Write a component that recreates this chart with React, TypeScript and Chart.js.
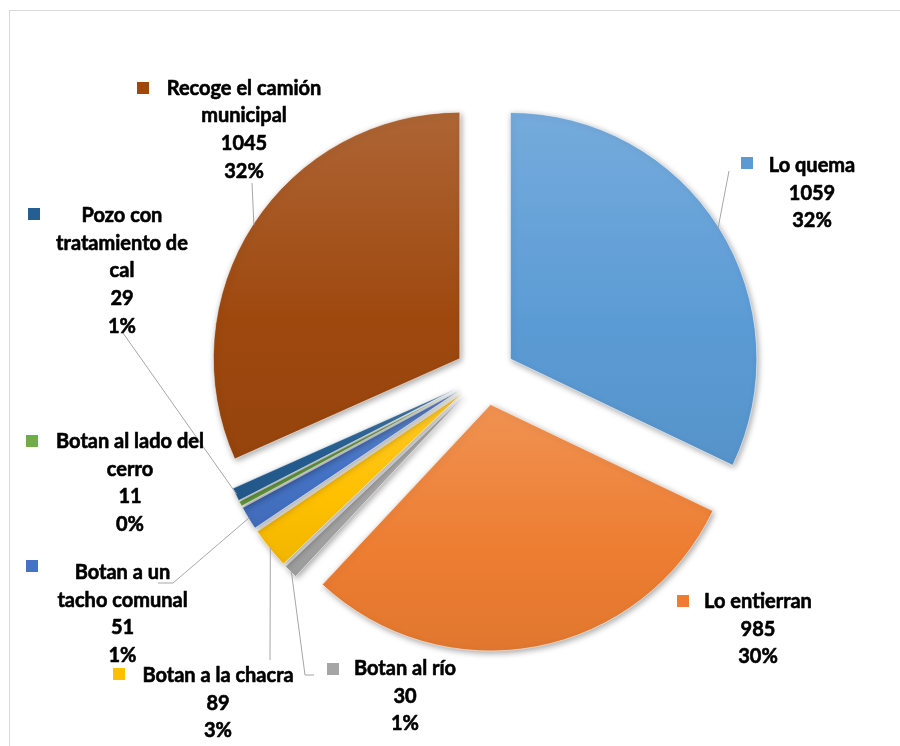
import React, { useEffect, useRef } from "react";
import { Chart, registerables } from "chart.js";

Chart.register(...registerables);

// ---- data ----
const categories = [
  "Lo quema",
  "Lo entierran",
  "Botan al río",
  "Botan a la chacra",
  "Botan a un tacho comunal",
  "Botan al lado del cerro",
  "Pozo con tratamiento de cal",
  "Recoge el camión municipal",
];
const values = [1059, 985, 30, 89, 51, 11, 29, 1045];
const percentLabels = ["32%", "30%", "1%", "3%", "1%", "0%", "1%", "32%"];
const nameLines = [
  ["Lo quema"],
  ["Lo entierran"],
  ["Botan al río"],
  ["Botan a la chacra"],
  ["Botan a un", "tacho comunal"],
  ["Botan al lado del", "cerro"],
  ["Pozo con", "tratamiento de", "cal"],
  ["Recoge el camión", "municipal"],
];
const baseColors = ["#5B9BD5", "#ED7D31", "#A5A5A5", "#FFC000", "#4472C4", "#70AD47", "#255E91", "#9E480E"];

// ---- layout (label placement, not data) ----
const labelLayout = [
  { cx: 812, y: 172, mx: 741, my: 157, lead: [[729, 171]] },
  { cx: 758, y: 608, mx: 677, my: 595, lead: [] },
  { cx: 405, y: 675, mx: 327, my: 663, lead: [[314, 675], [305, 675]] },
  { cx: 218, y: 682, mx: 113, my: 668, lead: [[270, 660]] },
  { cx: 122.5, y: 579, mx: 26, my: 560, lead: [[158, 583], [173, 583]] },
  { cx: 130, y: 448, mx: 26, my: 435, lead: [] },
  { cx: 122, y: 222, mx: 28, my: 208, lead: [[123, 333]] },
  { cx: 244, y: 94.5, mx: 137, my: 82, lead: [[252, 183]] },
];
const EXPLODE = 30;
const RADIUS = 246.5;
const LINE_H = 27.7;
const FONT = 'bold 20px Lato, "Open Sans", sans-serif';

function hexToRgb(h: string) {
  const n = parseInt(h.slice(1), 16);
  return [(n >> 16) & 255, (n >> 8) & 255, n & 255];
}
function mix(hex: string, target: number[], t: number) {
  const c = hexToRgb(hex);
  const r = c.map((v, k) => Math.round(v + (target[k] - v) * t));
  return `rgb(${r[0]},${r[1]},${r[2]})`;
}

function sliceYRange(chart: any, i: number) {
  const ca = chart.chartArea;
  const cy = (ca.top + ca.bottom) / 2;
  const total = values.reduce((a, b) => a + b, 0);
  let a0 = -Math.PI / 2;
  for (let j = 0; j < i; j++) a0 += (values[j] / total) * Math.PI * 2;
  const a1 = a0 + (values[i] / total) * Math.PI * 2;
  const mid = (a0 + a1) / 2;
  const sy = cy + Math.sin(mid) * EXPLODE;
  const ys = [sy, sy + Math.sin(a0) * RADIUS, sy + Math.sin(a1) * RADIUS];
  for (const t of [-Math.PI / 2, Math.PI / 2, (3 * Math.PI) / 2]) {
    if (t >= a0 && t <= a1) ys.push(sy + Math.sin(t) * RADIUS);
  }
  return { top: Math.min(...ys), bottom: Math.max(...ys) };
}

const explodePlugin = {
  id: "explode",
  afterDatasetUpdate(chart: any, args: any) {
    args.meta.data.forEach((el: any) => {
      const mid = (el.startAngle + el.endAngle) / 2;
      el.x += Math.cos(mid) * EXPLODE;
      el.y += Math.sin(mid) * EXPLODE;
    });
  },
};

const shadowPlugin = {
  id: "shadow",
  beforeDatasetsDraw(chart: any) {
    const c = chart.ctx;
    c.save();
    c.shadowColor = "rgba(0,0,0,0.35)";
    c.shadowBlur = 6;
    c.shadowOffsetX = 1.5;
    c.shadowOffsetY = 2;
  },
  afterDatasetsDraw(chart: any) {
    chart.ctx.restore();
  },
};

const labelsPlugin = {
  id: "sliceLabels",
  afterDraw(chart: any) {
    const c = chart.ctx;
    const meta = chart.getDatasetMeta(0);
    c.save();
    // frame
    c.strokeStyle = "#d9d9d9";
    c.lineWidth = 1;
    c.strokeRect(9.5, 10.5, 1000, 1000);
    // leader lines
    c.strokeStyle = "#a6a6a6";
    c.lineWidth = 1;
    labelLayout.forEach((L, i) => {
      if (!L.lead.length) return;
      const el = meta.data[i];
      const mid = (el.startAngle + el.endAngle) / 2;
      const ex = el.x + Math.cos(mid) * (el.outerRadius - 1);
      const ey = el.y + Math.sin(mid) * (el.outerRadius - 1);
      c.beginPath();
      c.moveTo(L.lead[0][0], L.lead[0][1]);
      for (let k = 1; k < L.lead.length; k++) c.lineTo(L.lead[k][0], L.lead[k][1]);
      c.lineTo(ex, ey);
      c.stroke();
    });
    // markers and text
    c.font = FONT;
    c.textAlign = "center";
    c.textBaseline = "alphabetic";
    c.lineJoin = "round";
    labelLayout.forEach((L, i) => {
      c.fillStyle = baseColors[i];
      c.fillRect(L.mx, L.my, 12, 12);
      c.fillStyle = "#000";
      c.strokeStyle = "#000";
      c.lineWidth = 0.6;
      const lines = [...nameLines[i], String(values[i]), percentLabels[i]];
      lines.forEach((t, k) => {
        c.fillText(t, L.cx, L.y + k * LINE_H);
        c.strokeText(t, L.cx, L.y + k * LINE_H);
      });
    });
    c.restore();
  },
};

export default function App() {
  const ref = useRef<HTMLCanvasElement>(null);
  useEffect(() => {
    let alive = true;
    const chart = new Chart(ref.current as HTMLCanvasElement, {
      type: "pie",
      data: {
        labels: categories,
        datasets: [
          {
            data: values,
            radius: RADIUS,
            borderWidth: 0.8,
            borderColor: "rgba(255,255,255,0.7)",
            backgroundColor: (ctx: any) => {
              const chart = ctx.chart;
              const i = ctx.dataIndex ?? 0;
              if (!chart.chartArea) return baseColors[i];
              const { top, bottom } = sliceYRange(chart, i);
              const g = chart.ctx.createLinearGradient(0, top, 0, bottom);
              g.addColorStop(0, mix(baseColors[i], [255, 255, 255], 0.16));
              g.addColorStop(0.6, baseColors[i]);
              g.addColorStop(1, mix(baseColors[i], [0, 0, 0], 0.05));
              return g;
            },
          } as any,
        ],
      },
      options: {
        responsive: false,
        animation: false,
        events: [],
        layout: { padding: { left: 70, right: 0, top: 4, bottom: 0 } },
        plugins: { legend: { display: false }, tooltip: { enabled: false } },
      },
      plugins: [explodePlugin, shadowPlugin, labelsPlugin],
    });
    if ((document as any).fonts?.load) {
      (document as any).fonts.load(FONT).then(() => {
        if (alive) chart.update();
      });
    }
    return () => {
      alive = false;
      chart.destroy();
    };
  }, []);
  return (
    <div style={{ position: "absolute", left: 0, top: 0, width: 900, height: 746, background: "#fff" }}>
      <canvas ref={ref} width={900} height={746} style={{ display: "block" }} />
    </div>
  );
}
